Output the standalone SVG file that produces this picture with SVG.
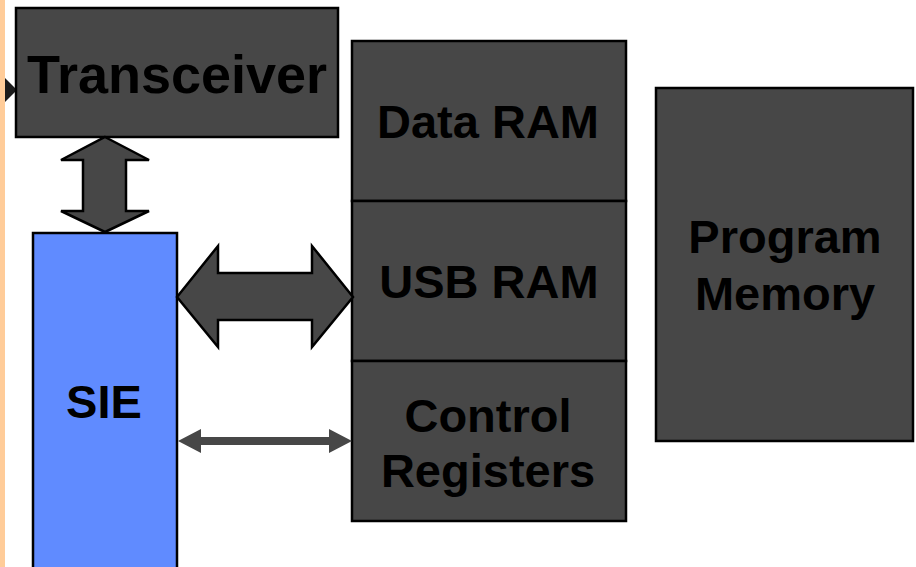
<svg xmlns="http://www.w3.org/2000/svg" width="916" height="567" viewBox="0 0 916 567">
<style>
.box{fill:#474747;stroke:#000;stroke-width:2.5}
.sie{fill:#608bff;stroke:#000;stroke-width:2.5}
.lbl{font-family:"Liberation Sans",Arial,sans-serif;font-weight:bold;font-size:47px;fill:#000;text-anchor:middle}
.fat{fill:#474747;stroke:#000;stroke-width:2.5;stroke-linejoin:miter}
.thin{fill:#474747;stroke:none}
</style>
<rect x="0" y="0" width="5" height="567" fill="#ffcc99"/>
<g id="edge-in"><polygon points="5,78 17,90 5,102" fill="#1a1a1a"/></g>
<g id="transceiver">
<rect class="box" x="16" y="8" width="322" height="129"/>
<text class="lbl" x="177" y="93" style="font-size:54px">Transceiver</text>
</g>
<g id="sie">
<rect class="sie" x="33" y="233" width="144" height="345"/>
<text class="lbl" x="104" y="418">SIE</text>
</g>
<g id="data-ram">
<rect class="box" x="352" y="41" width="274" height="160"/>
<text class="lbl" x="488" y="138">Data RAM</text>
</g>
<g id="usb-ram">
<rect class="box" x="352" y="201" width="274" height="160"/>
<text class="lbl" x="489" y="298">USB RAM</text>
</g>
<g id="control-registers">
<rect class="box" x="352" y="361" width="274" height="160"/>
<text class="lbl" x="488" y="432">Control</text>
<text class="lbl" x="488" y="487">Registers</text>
</g>
<g id="program-memory">
<rect class="box" x="656" y="88" width="257" height="353"/>
<text class="lbl" x="785" y="253">Program</text>
<text class="lbl" x="785" y="310">Memory</text>
</g>
<g id="connectors">
<polygon class="fat" points="105,137 149,160 126,160 126,211 149,211 105,232 61,211 83,211 83,160 61,160"/>
<polygon class="fat" points="177,297 218,246 218,273 312,273 312,246 353,297 312,347 312,320 218,320 218,347"/>
<polygon class="thin" points="178,441 201,429 201,437 329,437 329,429 352,441 329,453 329,445 201,445 201,453"/>
</g>
</svg>
